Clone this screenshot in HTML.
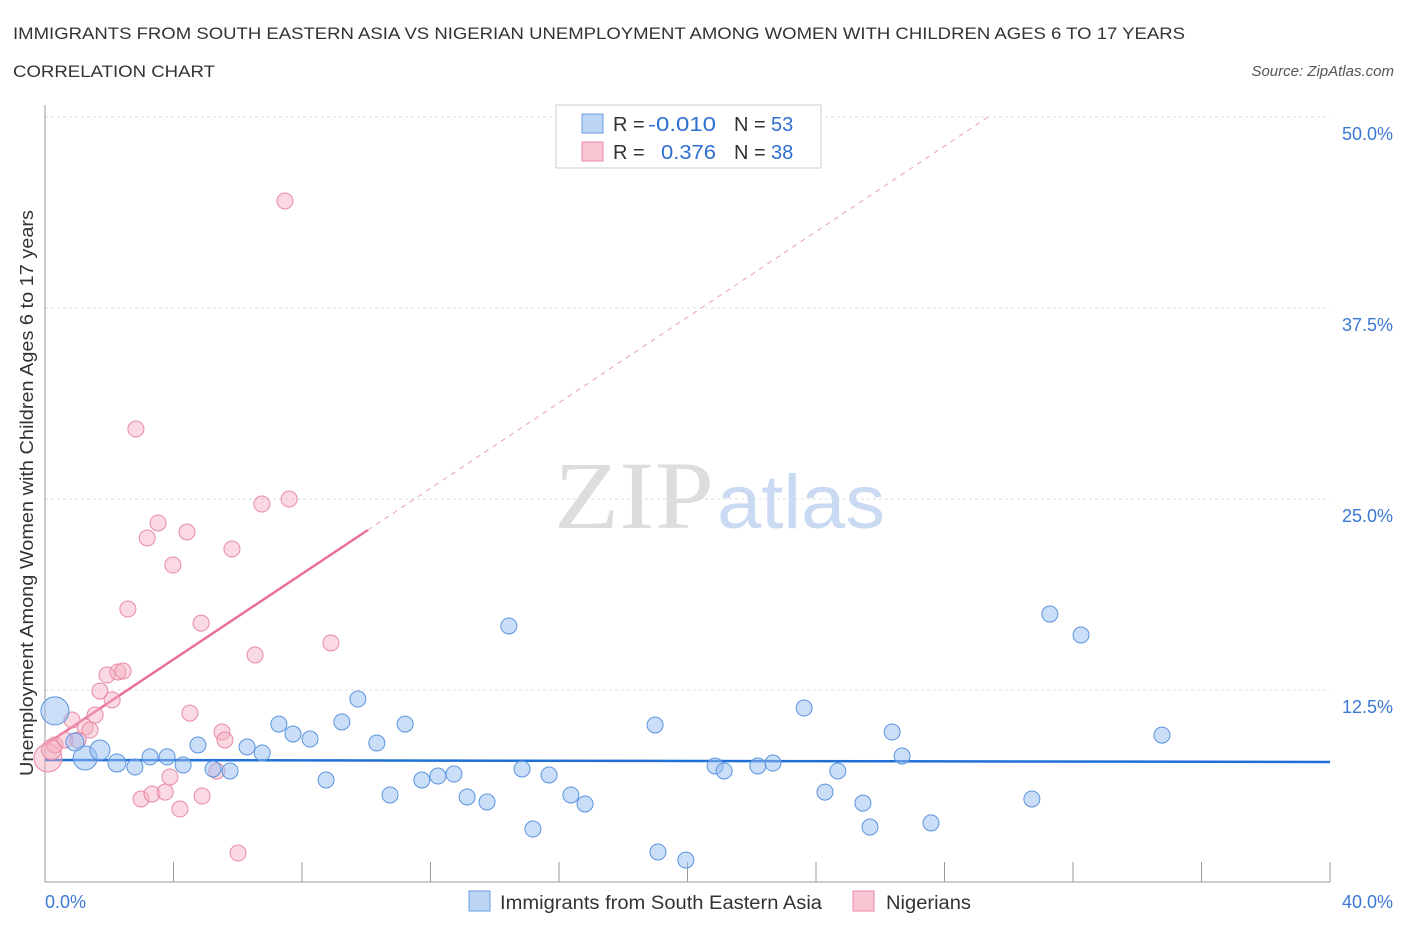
<!DOCTYPE html>
<html><head><meta charset="utf-8"><style>
body{margin:0;background:#fff;font-family:"Liberation Sans",sans-serif;}
svg{display:block}
</style></head><body>
<svg id="chart" width="1406" height="930" xmlns="http://www.w3.org/2000/svg">
<text x="13" y="39" font-size="17" fill="#333" textLength="1172" lengthAdjust="spacingAndGlyphs">IMMIGRANTS FROM SOUTH EASTERN ASIA VS NIGERIAN UNEMPLOYMENT AMONG WOMEN WITH CHILDREN AGES 6 TO 17 YEARS</text>
<text x="13" y="77" font-size="17" fill="#333" textLength="202" lengthAdjust="spacingAndGlyphs">CORRELATION CHART</text>
<text x="1394" y="76" font-size="15" fill="#555" font-style="italic" text-anchor="end">Source: ZipAtlas.com</text>
<g id="grid"></g>
<g id="axes"></g>
<text x="714" y="528" font-size="96" fill="#ddd" text-anchor="end" font-family="Liberation Serif,serif" textLength="160" lengthAdjust="spacingAndGlyphs">ZIP</text>
<text x="717" y="528" font-size="76" fill="#c9daf2" textLength="168" lengthAdjust="spacingAndGlyphs">atlas</text>
<g id="lines"></g>
<g id="points"></g>
<text x="33" y="493" font-size="18" fill="#333" text-anchor="middle" textLength="566" lengthAdjust="spacingAndGlyphs" transform="rotate(-90 33 493)">Unemployment Among Women with Children Ages 6 to 17 years</text>
<text x="45" y="908" font-size="18" fill="#3a78d6">0.0%</text>
<text x="1393" y="908" font-size="18" fill="#3a78d6" text-anchor="end">40.0%</text>
<g>
<rect x="556" y="105" width="265" height="63" fill="#fff" stroke="#ccc"/>
<rect x="582" y="114" width="21" height="19" fill="#bcd5f5" stroke="#6a9ee0"/>
<rect x="582" y="142" width="21" height="19" fill="#f8c6d3" stroke="#e88aa8"/>
<text x="613" y="131" font-size="20" fill="#333">R = <tspan fill="#2f6fd0" x="648" textLength="68" lengthAdjust="spacingAndGlyphs">-0.010</tspan></text>
<text x="734" y="131" font-size="20" fill="#333">N = <tspan fill="#2f6fd0" x="771">53</tspan></text>
<text x="613" y="159" font-size="20" fill="#333">R = <tspan fill="#2f6fd0" x="661" textLength="55" lengthAdjust="spacingAndGlyphs">0.376</tspan></text>
<text x="734" y="159" font-size="20" fill="#333">N = <tspan fill="#2f6fd0" x="771">38</tspan></text>
</g>
<g>
<rect x="469" y="891" width="21" height="20" fill="#bcd5f5" stroke="#6a9ee0"/>
<text x="500" y="909" font-size="19" fill="#333" textLength="322" lengthAdjust="spacingAndGlyphs">Immigrants from South Eastern Asia</text>
<rect x="853" y="891" width="21" height="20" fill="#f8c6d3" stroke="#e88aa8"/>
<text x="886" y="909" font-size="19" fill="#333" textLength="85" lengthAdjust="spacingAndGlyphs">Nigerians</text>
</g>
</svg>
<script>
const yTicks=[12.5,25,37.5,50];
const yTickLabels=["12.5%","25.0%","37.5%","50.0%"];
const xTicks=[4,8,12,16,20,24,28,32,36,40];
const blueX=[0.31,1.25,1.71,0.93,2.24,2.80,3.27,3.80,4.30,4.76,5.23,5.76,6.29,6.76,7.28,7.72,8.25,8.75,9.24,9.74,10.33,10.74,11.21,11.73,12.23,12.73,13.14,13.76,14.44,14.85,15.19,15.69,16.37,16.81,18.99,19.08,19.95,20.86,21.14,22.19,22.66,23.63,24.28,24.68,25.46,25.68,26.37,26.68,27.58,30.72,31.28,32.25,34.77];
const blueY=[11.13,8.05,8.57,9.10,7.72,7.46,8.12,8.12,7.59,8.90,7.33,7.20,8.77,8.38,10.27,9.62,9.29,6.61,10.41,11.91,9.03,5.63,10.27,6.61,6.87,7.00,5.50,5.17,16.69,7.33,3.40,6.94,5.63,5.04,10.21,1.90,1.37,7.53,7.20,7.53,7.72,11.32,5.82,7.20,5.10,3.53,9.75,8.18,3.80,5.37,17.47,16.10,9.55];
const blueR=[14,12,10,9,9,8,8,8,8,8,8,8,8,8,8,8,8,8,8,8,8,8,8,8,8,8,8,8,8,8,8,8,8,8,8,8,8,8,8,8,8,8,8,8,8,8,8,8,8,8,8,8,8];
const pinkX=[0.09,0.31,0.62,0.84,1.03,1.25,1.40,1.56,1.71,1.93,2.09,2.27,2.43,2.58,2.83,2.99,3.18,3.33,3.52,3.74,3.89,3.98,4.20,4.42,4.51,4.86,4.89,5.35,5.51,5.60,5.82,6.01,6.54,6.75,7.47,7.60,8.90,0.2];
const pinkY=[8.05,8.90,9.23,10.54,9.23,10.08,9.88,10.86,12.43,13.48,11.85,13.68,13.74,17.80,29.58,5.37,22.45,5.69,23.43,5.82,6.81,20.68,4.71,22.84,10.99,16.88,5.56,7.20,9.75,9.23,21.73,1.83,14.79,24.67,44.50,25.00,15.58,8.6];
const blueTrend=[7.92,7.79];
const pinkTrend=[8.90,1.40];
const NS="http://www.w3.org/2000/svg";
const X=v=>45+v/40*1285, Y=v=>881-v/12.5*191;
function mk(t,a,p){const e=document.createElementNS(NS,t);for(const k in a)e.setAttribute(k,a[k]);p.appendChild(e);return e;}
const grid=document.getElementById('grid'),axes=document.getElementById('axes'),lines=document.getElementById('lines'),pts=document.getElementById('points');
yTicks.forEach((t,i)=>{const l=mk('line',{x1:45,x2:1330,y1:Y(t),y2:Y(t),stroke:'#ddd','stroke-dasharray':'3,3'},grid);


const tx=mk('text',{x:1393,y:Y(t)+23,'font-size':18,fill:'#3a78d6','text-anchor':'end'},grid);tx.textContent=yTickLabels[i];

});
mk('line',{x1:45,x2:45,y1:105,y2:882,stroke:'#999'},axes);
mk('line',{x1:45,x2:1330,y1:882,y2:882,stroke:'#999'},axes);
xTicks.forEach(t=>{const l=mk('line',{x1:X(t),x2:X(t),y1:862,y2:882,stroke:'#999'},axes);

});
const bl=mk('line',{x1:X(0),x2:X(40),y1:Y(blueTrend[0]),y2:Y(blueTrend[1]),stroke:'#1f6fd6','stroke-width':2.5},lines);


const xe=(50-pinkTrend[0])/pinkTrend[1];
const xs=10.05;
const pd=mk('line',{x1:X(xs),x2:X(xe),y1:Y(pinkTrend[0]+pinkTrend[1]*xs),y2:Y(50),stroke:'#e8a0b8','stroke-width':1,'stroke-dasharray':'5,5'},lines);


const pl=mk('line',{x1:X(0),x2:X(xs),y1:Y(pinkTrend[0]),y2:Y(pinkTrend[0]+pinkTrend[1]*xs),stroke:'#e8709a','stroke-width':2.5},lines);


pinkX.forEach((x,i)=>{const c=mk('circle',{cx:X(x),cy:Y(pinkY[i]),r:i==0?14:(i==37?10:8),fill:'rgba(245,170,190,0.45)',stroke:'#e88aa8','stroke-width':1},pts);

});
blueX.forEach((x,i)=>{const c=mk('circle',{cx:X(x),cy:Y(blueY[i]),r:blueR[i],fill:'rgba(150,190,240,0.5)',stroke:'#5b94de','stroke-width':1},pts);

});
</script>
</body></html>
